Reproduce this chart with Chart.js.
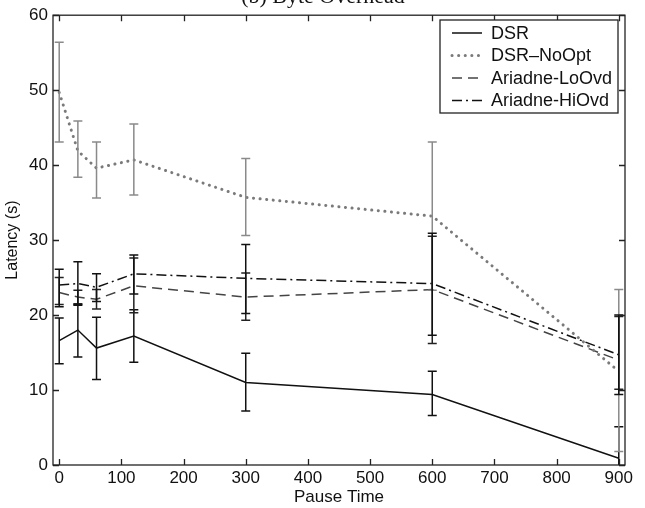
<!DOCTYPE html>
<html>
<head>
<meta charset="utf-8">
<script src="https://cdn.jsdelivr.net/npm/chart.js@4/dist/chart.umd.min.js"></script>
<style>
  html, body { margin: 0; padding: 0; background: #fff; }
</style>
</head>
<body>
<canvas id="chart" width="645" height="508"></canvas>
<script>
// pause time (x) for every series
const pauseTimes = [0, 30, 60, 120, 300, 600, 900];
const xTicks = [0, 100, 200, 300, 400, 500, 600, 700, 800, 900];

const seriesNames = ["DSR", "DSR\u2013NoOpt", "Ariadne-LoOvd", "Ariadne-HiOvd"];

// latency (s), with error bar low/high ends
const dsr      = [16.6, 18.0, 15.6, 17.2, 11.0, 9.4, 0.9];
const dsrLow   = [13.5, 14.4, 11.4, 13.7, 7.2, 6.6, 0];
const dsrHigh  = [19.6, 21.4, 19.7, 20.7, 14.9, 12.5, 5.1];

const noOpt     = [49.7, 41.9, 39.6, 40.7, 35.7, 33.2, 12.5];
const noOptLow  = [43.1, 38.4, 35.6, 36.0, 30.6, 23.3, 1.8];
const noOptHigh = [56.4, 45.9, 43.1, 45.5, 40.9, 43.1, 23.4];

const loOvd     = [23.0, 22.4, 22.1, 23.9, 22.4, 23.4, 14.0];
const loOvdLow  = [21.4, 21.5, 20.8, 20.3, 19.3, 16.2, 10.1];
const loOvdHigh = [25.0, 23.3, 23.4, 27.6, 25.6, 30.5, 19.8];

const hiOvd     = [24.0, 24.2, 23.7, 25.5, 24.9, 24.2, 14.7];
const hiOvdLow  = [21.1, 21.3, 21.8, 22.8, 20.2, 17.3, 9.4];
const hiOvdHigh = [26.1, 27.1, 25.5, 28.0, 29.4, 30.9, 20.0];

const errLows  = [dsrLow, noOptLow, loOvdLow, hiOvdLow];
const errHighs = [dsrHigh, noOptHigh, loOvdHigh, hiOvdHigh];
const errColors = ["#111", "#8a8a8a", "#222", "#111"];

const FONT = "'Liberation Sans', Arial, Helvetica, sans-serif";

function toPoints(ys) {
  return pauseTimes.map((x, i) => ({ x: x, y: ys[i] }));
}

const styles = [
  { color: "#111", dash: [], width: 1.5, cap: "butt" },
  { color: "#7a7a7a", dash: [0.1, 6.5], width: 3, cap: "round" },
  { color: "#444", dash: [10, 6], width: 1.5, cap: "butt" },
  { color: "#111", dash: [10, 4, 2, 4], width: 1.5, cap: "butt" }
];

const datasets = [dsr, noOpt, loOvd, hiOvd].map((ys, i) => ({
  label: seriesNames[i],
  data: toPoints(ys),
  borderColor: styles[i].color,
  borderWidth: styles[i].width,
  borderDash: styles[i].dash,
  borderCapStyle: styles[i].cap,
  pointRadius: 0,
  tension: 0,
  fill: false
}));

// error bars, inward ticks, box frame, legend, clipped title
const decorations = {
  id: "decorations",
  afterDatasetsDraw(chart) {
    const ctx = chart.ctx;
    const xs = chart.scales.x, ys = chart.scales.y;
    ctx.save();
    ctx.setLineDash([]);
    ctx.lineWidth = 1.5;
    errLows.forEach((lows, s) => {
      ctx.strokeStyle = errColors[s];
      pauseTimes.forEach((t, i) => {
        const px = xs.getPixelForValue(t);
        const lo = ys.getPixelForValue(Math.max(lows[i], 0));
        const hi = ys.getPixelForValue(errHighs[s][i]);
        ctx.beginPath();
        ctx.moveTo(px, lo); ctx.lineTo(px, hi);
        ctx.moveTo(px - 4.5, hi); ctx.lineTo(px + 4.5, hi);
        if (lows[i] > 0) { ctx.moveTo(px - 4.5, lo); ctx.lineTo(px + 4.5, lo); }
        ctx.stroke();
      });
    });
    ctx.restore();
  },
  afterDraw(chart) {
    const ctx = chart.ctx;
    const a = chart.chartArea;
    const xs = chart.scales.x, ys = chart.scales.y;
    ctx.save();
    ctx.strokeStyle = "#222";
    ctx.lineWidth = 1.3;
    ctx.setLineDash([]);
    ctx.strokeRect(a.left, a.top, a.right - a.left, a.bottom - a.top);
    ctx.beginPath();
    xTicks.forEach(v => {
      const px = Math.round(xs.getPixelForValue(v)) + 0.5;
      ctx.moveTo(px, a.bottom); ctx.lineTo(px, a.bottom - 6);
      ctx.moveTo(px, a.top); ctx.lineTo(px, a.top + 6);
    });
    ys.ticks.forEach(t => {
      const py = Math.round(ys.getPixelForValue(t.value)) + 0.5;
      ctx.moveTo(a.left, py); ctx.lineTo(a.left + 6, py);
      ctx.moveTo(a.right, py); ctx.lineTo(a.right - 6, py);
    });
    ctx.stroke();

    // legend box
    const lx = 440, ly = 20, lw = 178, lh = 93;
    ctx.fillStyle = "#fff";
    ctx.fillRect(lx, ly, lw, lh);
    ctx.strokeRect(lx, ly, lw, lh);
    ctx.font = "18px " + FONT;
    ctx.textBaseline = "middle";
    chart.data.datasets.forEach((d, i) => {
      const y = ly + 13 + i * 22.5;
      ctx.strokeStyle = d.borderColor;
      ctx.lineWidth = d.borderWidth;
      ctx.lineCap = d.borderCapStyle;
      ctx.setLineDash(d.borderDash);
      ctx.beginPath();
      ctx.moveTo(452, y); ctx.lineTo(482, y);
      ctx.stroke();
      ctx.fillStyle = "#111";
      ctx.fillText(d.label, 491, y + 1);
    });

    // title, cut off by the top edge
    ctx.fillStyle = "#111";
    ctx.font = "22px 'Liberation Serif', 'Times New Roman', serif";
    ctx.textAlign = "center";
    ctx.textBaseline = "alphabetic";
    ctx.fillText("(b) Byte Overhead", 323, 3);
    ctx.restore();
  }
};

new Chart(document.getElementById("chart"), {
  type: "line",
  data: { datasets: datasets },
  options: {
    responsive: false,
    animation: false,
    layout: { padding: { top: 13, right: 20, left: 0, bottom: 0 } },
    plugins: { legend: { display: false }, tooltip: { enabled: false } },
    scales: {
      x: {
        type: "linear",
        min: -10,
        max: 910,
        afterFit: s => { s.height = 43; },
        afterBuildTicks: s => { s.ticks = xTicks.map(v => ({ value: v })); },
        grid: { display: false, drawTicks: false },
        border: { display: false },
        ticks: { color: "#111", font: { family: FONT, size: 17 }, padding: 3, maxRotation: 0 },
        title: { display: true, text: "Pause Time", color: "#111", font: { family: FONT, size: 17 }, padding: { top: 5, bottom: 0 } }
      },
      y: {
        min: 0,
        max: 60,
        afterFit: s => { s.width = 53; },
        grid: { display: false, drawTicks: false },
        border: { display: false },
        ticks: { stepSize: 10, color: "#111", font: { family: FONT, size: 17 }, padding: 5 },
        title: { display: true, text: "Latency (s)", color: "#111", font: { family: FONT, size: 16 }, padding: { top: 3, bottom: 0 } }
      }
    }
  },
  plugins: [decorations]
});
</script>
</body>
</html>
